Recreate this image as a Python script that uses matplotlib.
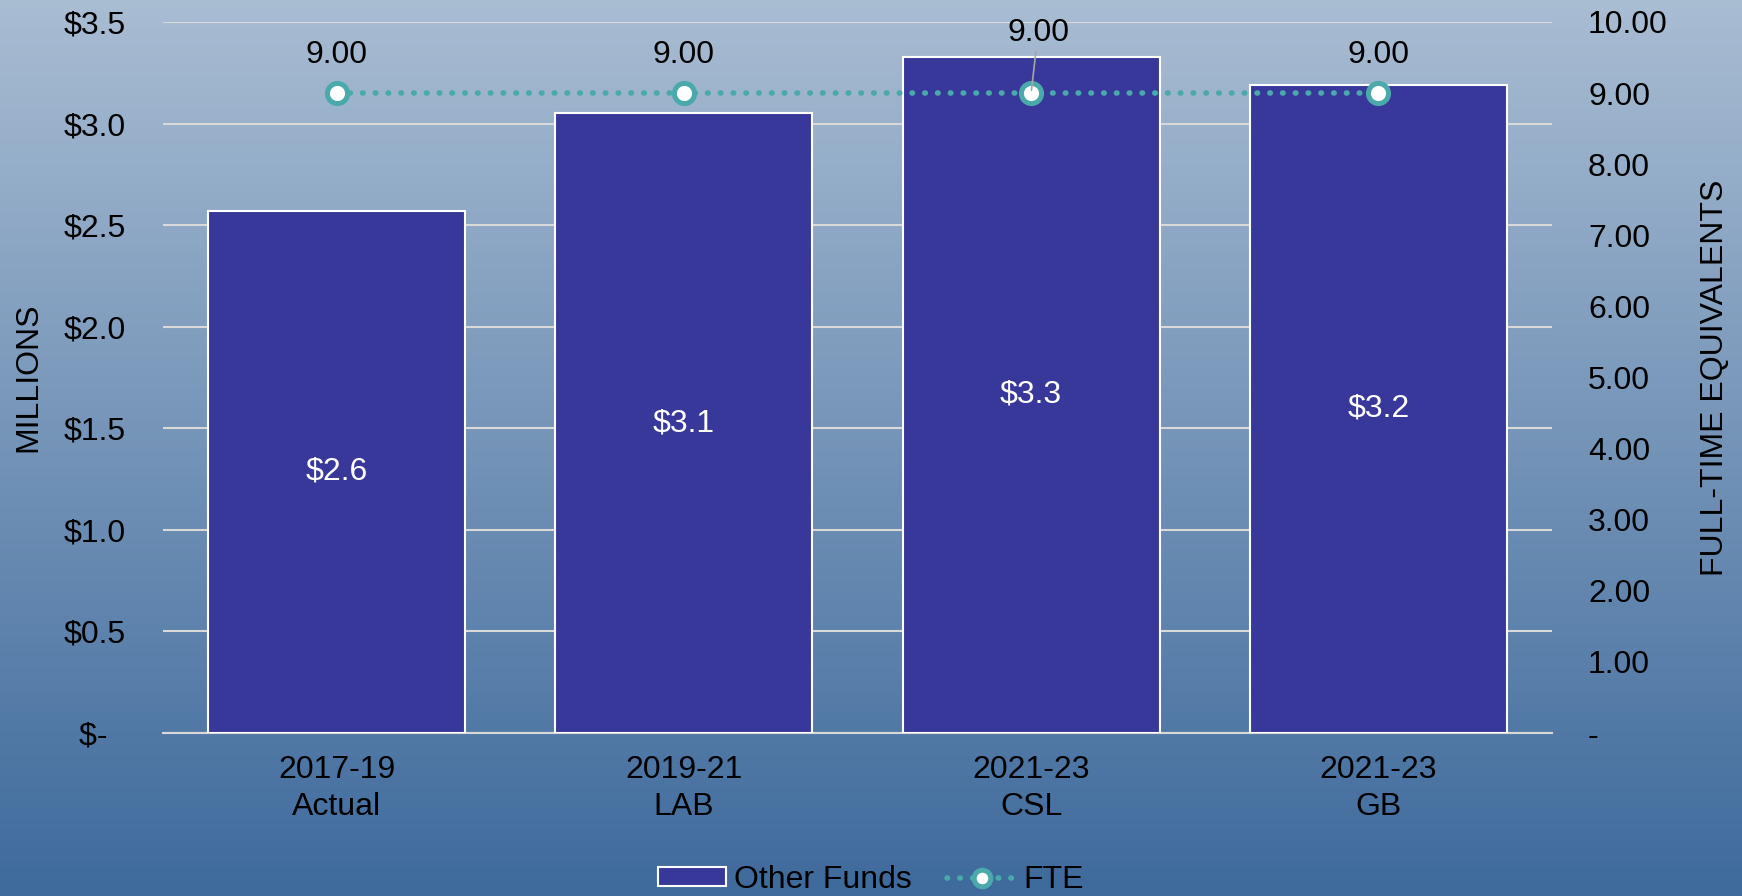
import numpy as np
import matplotlib
matplotlib.use("Agg")
import matplotlib.pyplot as plt
from matplotlib.colors import LinearSegmentedColormap
from matplotlib.lines import Line2D
from matplotlib.patches import Patch

# chart data
categories = ["2017-19\nActual", "2019-21\nLAB", "2021-23\nCSL", "2021-23\nGB"]
other_funds = [2.57, 3.05, 3.33, 3.19]          # $ millions
fund_labels = ["$2.6", "$3.1", "$3.3", "$3.2"]
fte = [9.00, 9.00, 9.00, 9.00]
left_ticks = [0, 0.5, 1.0, 1.5, 2.0, 2.5, 3.0, 3.5]
left_ticklabels = ["$-  ", "$0.5", "$1.0", "$1.5", "$2.0", "$2.5", "$3.0", "$3.5"]
right_ticks = [0, 1, 2, 3, 4, 5, 6, 7, 8, 9, 10]
right_ticklabels = ["-"] + ["%.2f" % v for v in right_ticks[1:]]

plt.rcParams['font.family'] = ['Liberation Sans', 'DejaVu Sans']
fs = 23

bar_color = "#38389a"
teal = "#4aa9aa"
grid_color = "#d9d9d9"
dots = (0, (0.1, 2.2))

fig = plt.figure(figsize=(17.42, 8.96), dpi=100)

# gradient background
bg = fig.add_axes([0, 0, 1, 1], zorder=-10)
cmap = LinearSegmentedColormap.from_list("bg", ["#a9bdd3", "#3e6a9c"])
bg.imshow(np.linspace(0, 1, 256).reshape(-1, 1), aspect="auto", cmap=cmap,
          extent=[0, 1, 0, 1])
bg.axis("off")

ax = fig.add_axes([163 / 1742, 1 - 733 / 896, (1552 - 163) / 1742, (733 - 22) / 896])
ax.patch.set_alpha(0)
x = np.arange(len(categories))

ax.bar(x, other_funds, width=0.74, color=bar_color, edgecolor="white", linewidth=1.5, zorder=3)
for xi, v, lab in zip(x, other_funds, fund_labels):
    ax.text(xi, v / 2, lab, ha="center", va="center", color="white", fontsize=fs, zorder=4)

ax.set_xlim(-0.5, len(categories) - 0.5)
ax.set_ylim(0, 3.5)
ax.set_yticks(left_ticks)
ax.set_yticklabels(left_ticklabels)
ax.set_xticks(x)
ax.set_xticklabels(categories, linespacing=1.3)
ax.tick_params(axis="both", length=0, labelsize=fs)
ax.tick_params(axis="y", pad=27)
ax.tick_params(axis="x", pad=16)
ax.grid(axis="y", color=grid_color, linewidth=1.5, zorder=0)
ax.set_axisbelow(True)
for s in ["top", "left", "right"]:
    ax.spines[s].set_visible(False)
ax.spines["bottom"].set_color(grid_color)
ax.spines["bottom"].set_linewidth(1.5)
ax.set_ylabel("MILLIONS", fontsize=fs, labelpad=14)

ax2 = ax.twinx()
ax2.set_ylim(0, 10)
ax2.set_yticks(right_ticks)
ax2.set_yticklabels(right_ticklabels)
ax2.tick_params(axis="y", length=0, labelsize=fs, pad=26)
for s in ax2.spines.values():
    s.set_visible(False)
ax2.plot(x, fte, color=teal, linewidth=4, linestyle=dots,
         dash_capstyle="round", marker="o", markersize=14.5, markerfacecolor="white",
         markeredgecolor=teal, markeredgewidth=3.6, zorder=5)
for xi, v in zip(x, fte):
    if xi == 2:
        ax2.annotate("%.2f" % v, xy=(xi, v), xytext=(xi + 0.02, v + 0.85), ha="center",
                     va="center", fontsize=fs, zorder=6,
                     arrowprops=dict(arrowstyle="-", color="#a6a6a6", lw=1.2,
                                     shrinkA=1, shrinkB=2))
    else:
        ax2.text(xi, v + 0.53, "%.2f" % v, ha="center", va="center", fontsize=fs)
ax2.set_ylabel("FULL-TIME EQUIVALENTS", fontsize=fs, labelpad=23)

handles = [Patch(facecolor=bar_color, edgecolor="white", linewidth=1.5),
           Line2D([0], [0], color=teal, linewidth=4, linestyle=dots,
                  dash_capstyle="round", marker="o", markersize=12,
                  markerfacecolor="white", markeredgecolor=teal, markeredgewidth=3.6)]
fig.legend(handles, ["Other Funds", "FTE"], loc="center", bbox_to_anchor=(0.5, 1 - 880 / 896),
           ncol=2, frameon=False, fontsize=fs, handlelength=2.15, handleheight=0.55,
           handletextpad=0.25, columnspacing=1.1)

fig.savefig("out.png", dpi=100)
